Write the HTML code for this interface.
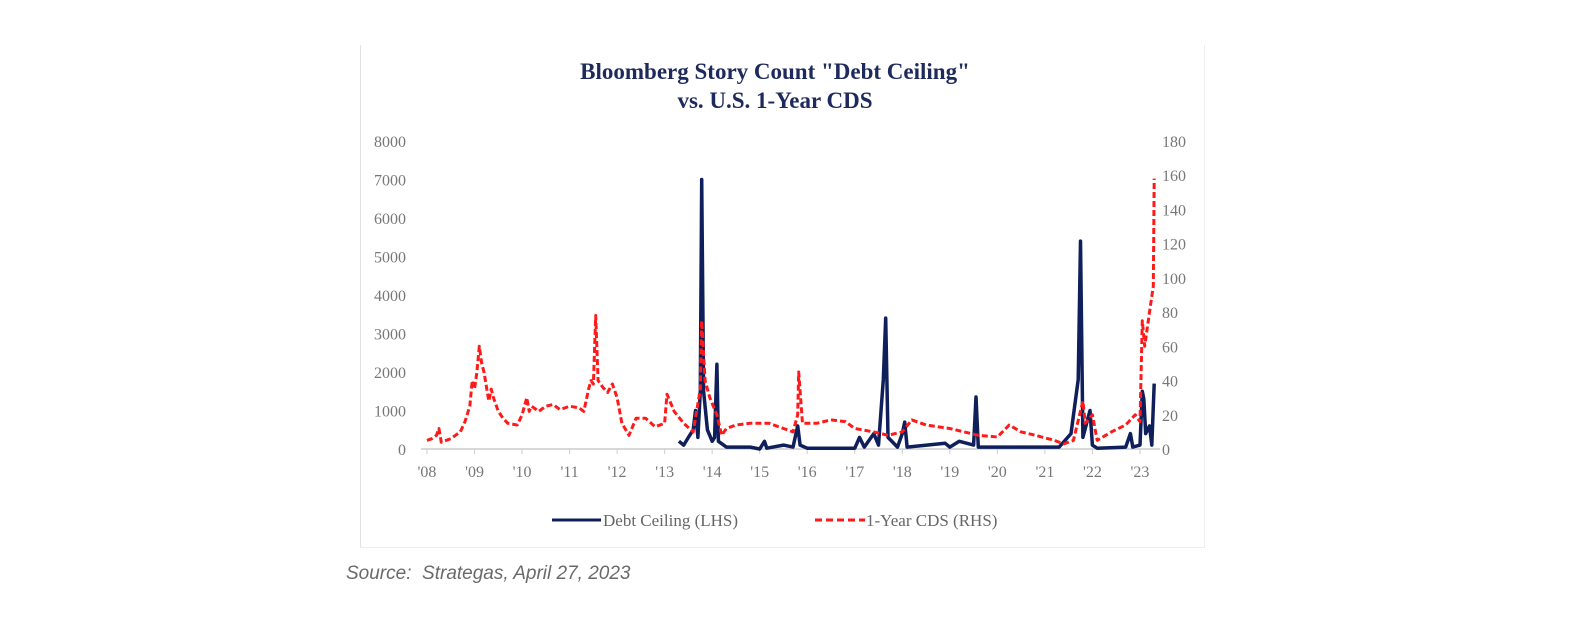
<!DOCTYPE html>
<html><head><meta charset="utf-8"><style>
html,body{margin:0;padding:0;background:#fff;width:1586px;height:634px;overflow:hidden}
#frame{position:absolute;left:360px;top:45px;width:843px;height:502px;border-left:1.5px solid #e2e2e2;border-bottom:1.5px solid #eee;border-right:1px solid #eee}
#src{position:absolute;left:346px;top:563px;font:italic 19px "Liberation Sans",sans-serif;color:#6a6a6a}
</style></head><body>
<div id="frame"></div>
<svg id="chart" width="1586" height="634" style="position:absolute;left:0;top:0">
<text x="775" y="79" text-anchor="middle" font-family="Liberation Serif,serif" font-weight="bold" font-size="23" fill="#1f2a5c">Bloomberg Story Count "Debt Ceiling"</text>
<text x="775" y="108" text-anchor="middle" font-family="Liberation Serif,serif" font-weight="bold" font-size="23" fill="#1f2a5c">vs. U.S. 1-Year CDS</text>
<g id="axes"></g><g id="series"></g>
<g>
<line x1="552" y1="520" x2="601" y2="520" stroke="#0f1f5c" stroke-width="3"/>
<text x="603" y="526" font-family="Liberation Serif,serif" font-size="17" fill="#666">Debt Ceiling (LHS)</text>
<line x1="815" y1="520" x2="865" y2="520" stroke="#ff1a1a" stroke-width="3" stroke-dasharray="7,4"/>
<text x="866" y="526" font-family="Liberation Serif,serif" font-size="17" fill="#666">1-Year CDS (RHS)</text>
</g>
</svg>
<div id="src">Source:&nbsp; Strategas, April 27, 2023</div>
<script>
const leftTicks=[0,1000,2000,3000,4000,5000,6000,7000,8000];
const rightTicks=[0,20,40,60,80,100,120,140,160,180];
const yearTicks=[2008,2009,2010,2011,2012,2013,2014,2015,2016,2017,2018,2019,2020,2021,2022,2023];
const cdsDates=[2008.0,2008.1,2008.2,2008.25,2008.3,2008.5,2008.6,2008.7,2008.8,2008.9,2008.95,2009.0,2009.05,2009.1,2009.15,2009.2,2009.3,2009.35,2009.4,2009.5,2009.6,2009.7,2009.9,2010.0,2010.1,2010.15,2010.2,2010.35,2010.5,2010.65,2010.8,2011.0,2011.2,2011.3,2011.4,2011.45,2011.5,2011.55,2011.6,2011.7,2011.8,2011.9,2012.0,2012.1,2012.25,2012.4,2012.6,2012.8,2013.0,2013.05,2013.2,2013.4,2013.6,2013.75,2013.78,2013.85,2013.95,2014.1,2014.2,2014.3,2014.5,2014.8,2015.2,2015.5,2015.7,2015.8,2015.82,2015.9,2016.2,2016.5,2016.8,2017.0,2017.4,2017.7,2018.0,2018.2,2018.5,2019.0,2019.3,2019.6,2020.0,2020.25,2020.5,2020.8,2021.2,2021.4,2021.6,2021.8,2021.85,2022.0,2022.1,2022.4,2022.7,2022.9,2023.0,2023.05,2023.1,2023.2,2023.28,2023.3];
const cdsValues=[5,6,8,12,4,6,8,10,16,25,40,35,45,60,50,45,28,35,30,22,18,15,14,20,30,22,25,22,25,26,23,25,24,22,35,40,38,78,40,36,33,38,30,15,8,18,18,13,15,32,22,15,10,35,75,40,30,20,8,12,14,15,15,12,10,20,45,15,15,17,16,12,10,8,10,17,14,12,10,8,7,14,10,8,5,3,5,28,15,20,5,10,14,20,16,75,60,80,95,158];
const dcDates=[2013.3,2013.4,2013.5,2013.6,2013.65,2013.7,2013.75,2013.78,2013.82,2013.9,2014.0,2014.05,2014.1,2014.13,2014.3,2014.8,2015.0,2015.1,2015.15,2015.5,2015.7,2015.8,2015.85,2016.0,2017.0,2017.1,2017.2,2017.4,2017.5,2017.6,2017.65,2017.7,2017.9,2018.0,2018.05,2018.1,2018.9,2019.0,2019.2,2019.5,2019.55,2019.6,2021.3,2021.55,2021.7,2021.75,2021.8,2021.95,2022.0,2022.1,2022.7,2022.8,2022.85,2023.0,2023.05,2023.08,2023.12,2023.2,2023.25,2023.3];
const dcValues=[200,100,300,500,1000,300,1500,7000,1500,500,200,300,2200,200,50,50,0,200,20,100,50,600,100,20,20,300,50,400,100,1800,3400,300,50,400,700,50,150,50,200,100,1350,50,50,400,1800,5400,300,1000,100,20,50,400,50,100,1500,1300,400,600,100,1700];
const NS='http://www.w3.org/2000/svg';
const x0=427,pxYear=47.53,yBase=449,yTop=141;
const xs=d=>x0+(d-2008)*pxYear;
const yl=v=>yBase-(v/8000)*(yBase-yTop);
const yr=v=>yBase-(v/180)*(yBase-yTop);
const axes=document.getElementById('axes'),series=document.getElementById('series');
function mk(tag,attrs,parent){const e=document.createElementNS(NS,tag);for(const k in attrs)e.setAttribute(k,attrs[k]);parent.appendChild(e);return e;}
const base=mk('line',{x1:421,y1:yBase,x2:1160,y2:yBase,stroke:'#ccc','stroke-width':1.5},axes);


leftTicks.forEach(v=>{const t=mk('text',{x:406,y:yl(v)+6,'text-anchor':'end','font-family':'Liberation Serif,serif','font-size':16,fill:'#777'},axes);t.textContent=v;

});
rightTicks.forEach(v=>{const t=mk('text',{x:1162,y:yr(v)+6,'font-family':'Liberation Serif,serif','font-size':16,fill:'#777'},axes);t.textContent=v;

});
yearTicks.forEach(d=>{const tk=mk('line',{x1:xs(d),y1:yBase,x2:xs(d),y2:yBase+5,stroke:'#ccc'},axes);


const t=mk('text',{x:xs(d),y:477,'text-anchor':'middle','font-family':'Liberation Serif,serif','font-size':16,fill:'#777'},axes);t.textContent="'"+String(d).slice(2);

});
const dcPts=dcDates.map((d,i)=>xs(d).toFixed(1)+','+yl(dcValues[i]).toFixed(1)).join(' ');
const dc=mk('polyline',{points:dcPts,fill:'none',stroke:'#0f1f5c','stroke-width':3.5,'stroke-linejoin':'round'},series);


const cdsPts=cdsDates.map((d,i)=>xs(d).toFixed(1)+','+yr(cdsValues[i]).toFixed(1)).join(' ');
const cds=mk('polyline',{points:cdsPts,fill:'none',stroke:'#ff1a1a','stroke-width':3,'stroke-dasharray':'6,3','stroke-linejoin':'round'},series);


</script>
</body></html>
